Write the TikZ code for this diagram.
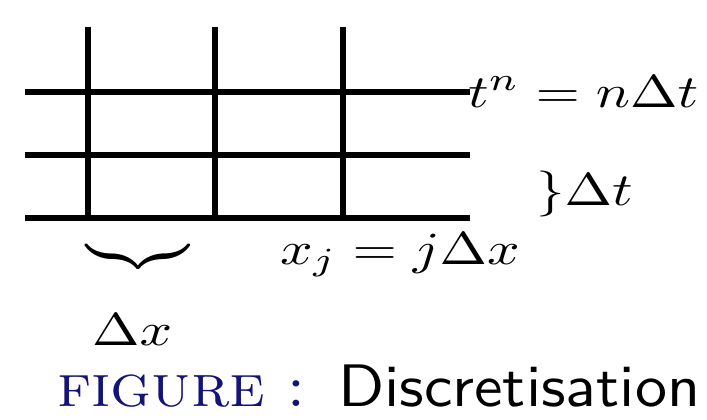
\documentclass[tikz,border=0pt]{standalone}
\usepackage{xcolor}
\definecolor{capblue}{RGB}{20,20,120}
\newcommand{\mathbig}[1]{\scalebox{5.7}[4.6]{#1}}
\newcommand{\capbig}[1]{\scalebox{6.4}[6.0]{#1}}
\newcommand{\discbig}[1]{\scalebox{6.4}[6.0]{#1}}
\begin{document}
\begin{tikzpicture}[x=1pt,y=-1pt,
  gridline/.style={line width=6pt},
  lbl/.style={inner sep=0pt}]
\useasboundingbox (0,0) rectangle (707,420);
% horizontal lines
\coordinate (h1a) at (25,92);  \coordinate (h1b) at (470,92);
\coordinate (h2a) at (25,155); \coordinate (h2b) at (470,155);
\coordinate (h3a) at (25,218); \coordinate (h3b) at (470,218);
\draw[gridline] (h1a) -- (h1b);
\draw[gridline] (h2a) -- (h2b);
\draw[gridline] (h3a) -- (h3b);
% vertical lines
\coordinate (v1a) at (88,27);  \coordinate (v1b) at (88,218);
\coordinate (v2a) at (215,27); \coordinate (v2b) at (215,218);
\coordinate (v3a) at (343,27); \coordinate (v3b) at (343,218);
\draw[gridline] (v1a) -- (v1b);
\draw[gridline] (v2a) -- (v2b);
\draw[gridline] (v3a) -- (v3b);
% labels
\node[lbl,anchor=base west] (tn) at (468,107) {\mathbig{$t^n = n\Delta t$}};
\node[lbl,anchor=base west] (dt) at (536,205) {\mathbig{$\}\Delta t$}};
\node[lbl,anchor=base west] (xj) at (280,264) {\mathbig{$x_j = j\Delta x$}};
\node[lbl,anchor=north] (br) at (138,240) {\mathbig{$\underbrace{\hspace{18pt}}$}};
\node[lbl,anchor=base west] (dx) at (92,345) {\mathbig{$\Delta x$}};
\node[lbl,anchor=base west] (fig) at (57,406) {\capbig{\textcolor{capblue}{\textsc{figure}}}};
\node[lbl,anchor=base] (colon) at (296,406) {\capbig{\textcolor{capblue}{:}}};
\node[lbl,anchor=base west] (disc) at (338,406) {\discbig{\sffamily Discretisation}};
\end{tikzpicture}
\end{document}
